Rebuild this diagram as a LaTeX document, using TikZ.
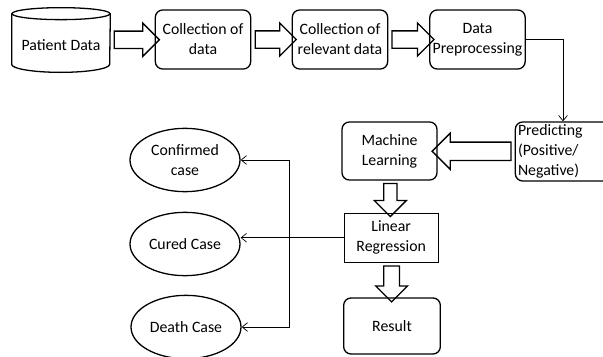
\documentclass[tikz,border=0pt]{standalone}
\usepackage{fontspec}
\setmainfont{Carlito}
\usetikzlibrary{arrows.meta, shapes.geometric, shapes.arrows, calc}

\begin{document}
\begin{tikzpicture}[
    x=0.03cm, y=-0.03cm,
    >={Straight Barb[length=1.6mm, width=2.6mm]},
    line width=0.6pt,
    font=\fontsize{13.5}{17}\selectfont,
    box/.style={draw, line width=1.1pt, rounded corners=2.2mm, align=center,
        minimum width=2.86cm, minimum height=1.77cm, inner sep=1pt},
    oval/.style={draw, line width=1.1pt, ellipse, align=center,
        minimum width=3.3cm, minimum height=1.9cm, inner sep=0pt},
    fat/.style={draw, line width=1.1pt, single arrow, single arrow head extend=0.24cm,
        inner sep=0.24cm, minimum width=0.96cm}
]
\useasboundingbox (0,0) rectangle (603,356);

%-------------------------
% Top row
%-------------------------
\node[minimum width=2.94cm, minimum height=1.92cm, inner sep=0pt] (pat) at (61,40) {};
\node at ($(pat.center)+(0,5)$) {Patient Data};
% Cylinder outline
\draw[line width=1.1pt] ($(pat.north west)+(0,6)$) -- ($(pat.south west)+(0,-8)$)
    arc[start angle=180, end angle=360, x radius=1.47cm, y radius=0.24cm]
    -- ($(pat.north east)+(0,6)$);
\draw[line width=1.1pt] ($(pat.north)+(0,6)$) ellipse[x radius=1.47cm, y radius=0.18cm];

\node[box] (col) at (203,39.5) {Collection of\\data};
\node[box] (rel) at (340,39.5) {Collection of\\relevant data};
\node[box] (pre) at (477.5,39.5) {Data\\Preprocessing};

% Hollow arrows
\node[fat, minimum height=1.35cm] (a1) at ($(pat.east)!.5!(col.west)$) {};
\node[fat, minimum height=1.23cm] (a2) at ($(col.east)!.5!(rel.west)$) {};
\node[fat, minimum height=1.26cm] (a3) at ($(rel.east)!.5!(pre.west)$) {};

%-------------------------
% Middle column
%-------------------------
\node[box, align=left, text width=2.7cm] (prd) at (563,151.5) {Predicting\\(Positive/\\Negative)};
\node[box, minimum width=2.85cm, minimum height=1.74cm] (ml) at (389.5,151) {Machine\\Learning};
\node[draw, line width=0.85pt, align=center, minimum width=2.82cm,
    minimum height=1.47cm, inner sep=1pt] (lr) at (391.2,237.7) {Linear\\Regression};
\node[box, minimum width=2.9cm, minimum height=1.68cm] (res) at (392,326) {Result};

\draw[->] (pre.east) -| (prd.north);

\node[fat, shape border rotate=180, minimum height=2.37cm,
    single arrow head extend=0.27cm, inner sep=0.255cm] (a4) at ($(prd.west)!.5!(ml.east)$) {};
\node[fat, shape border rotate=270, minimum height=0.99cm,
    inner sep=0.16cm, single arrow head extend=0.25cm] (a5) at ($(ml.south)!.5!(lr.north)$) {};
\node[fat, shape border rotate=270, minimum height=1.08cm,
    inner sep=0.2cm, single arrow head extend=0.23cm] (a6) at ($(lr.south)!.5!(res.north)$) {};

%-------------------------
% Cases
%-------------------------
\node[oval] (conf) at (185,160) {Confirmed\\case};
\node[oval] (cur) at (185,244) {Cured Case};
\node[oval] (dth) at (186,327) {Death Case};

\coordinate (jn) at ($(lr.west)+(-54,0)$);
\draw (lr.west) -- (jn);
\draw[->] (jn) |- (conf.east);
\draw[->] (jn) -- (jn -| cur.east);
\draw[->] (jn) |- (dth.east);
\end{tikzpicture}
\end{document}
